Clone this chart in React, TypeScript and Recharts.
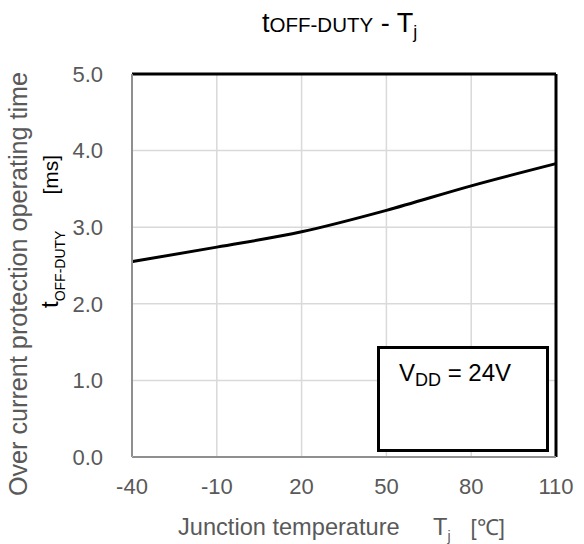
import { LineChart, Line, XAxis, YAxis, CartesianGrid, ReferenceLine } from 'recharts';

// junction temperature [°C] and t_OFF-DUTY [ms]
const temps = [-40, -10, 20, 50, 80, 110];
const offDuty = [2.55, 2.74, 2.94, 3.22, 3.54, 3.83];

const xTicks = [-40, -10, 20, 50, 80, 110];
const yTicks = [0, 1, 2, 3, 4, 5];

const data = temps.map((t, i) => ({ t, v: offDuty[i] }));

const FONT = '"Liberation Sans", Arial, sans-serif';
const GRAY = '#595959';

export default function App() {
  return (
    <div style={{ position: 'absolute', left: 0, top: 0, width: 584, height: 544, background: '#fff', fontFamily: FONT }}>
      <LineChart width={584} height={544} data={data} margin={{ top: 74, right: 28, bottom: 47, left: 72 }}>
        <CartesianGrid stroke="#d9d9d9" strokeWidth={1.5} />
        <XAxis
          dataKey="t"
          type="number"
          domain={[-40, 110]}
          ticks={xTicks}
          height={40}
          tickSize={0}
          tickMargin={21}
          axisLine={{ stroke: '#bfbfbf', strokeWidth: 1.5 }}
          tick={{ fontSize: 22, fill: GRAY, fontFamily: FONT }}
        />
        <YAxis
          type="number"
          domain={[0, 5]}
          ticks={yTicks}
          width={60}
          tickSize={0}
          tickMargin={29}
          axisLine={{ stroke: '#bfbfbf', strokeWidth: 1.5 }}
          tickFormatter={(v: number) => v.toFixed(1)}
          tick={{ fontSize: 22, fill: GRAY, fontFamily: FONT }}
        />
        <ReferenceLine y={5} stroke="#000" strokeWidth={3} />
        <ReferenceLine x={110} stroke="#000" strokeWidth={3} />
        <ReferenceLine x={-40} stroke="#000" strokeWidth={2} />
        <ReferenceLine y={0} stroke="#000" strokeWidth={2} />
        <Line type="monotone" dataKey="v" stroke="#000" strokeWidth={3} dot={false} isAnimationActive={false} />
      </LineChart>

      <svg width={584} height={544} style={{ position: 'absolute', left: 0, top: 0, pointerEvents: 'none' }} fontFamily={FONT}>
        <text x={262} y={32} fill="#000">
          <tspan fontSize={27}>t</tspan>
          <tspan fontSize={20.5}>OFF-DUTY</tspan>
          <tspan fontSize={27}> - T</tspan>
          <tspan fontSize={18} dy={6}>j</tspan>
        </text>

        <text transform="translate(27,284) rotate(-90)" textAnchor="middle" fontSize={25.2} fill={GRAY}>
          Over current protection operating time
        </text>
        <text transform="translate(58,308) rotate(-90)" fill="#000">
          <tspan fontSize={24}>t</tspan>
          <tspan fontSize={14} dy={7}>OFF-DUTY</tspan>
          <tspan fontSize={21} dy={-7} dx={36}>[ms]</tspan>
        </text>

        <text x={178} y={535} fontSize={23.6} fill={GRAY}>Junction temperature</text>
        <text x={433} y={535} fill={GRAY}>
          <tspan fontSize={23.6}>T</tspan>
          <tspan fontSize={14} dy={6}>j</tspan>
          <tspan fontSize={22} dy={-6} dx={20}>[℃]</tspan>
        </text>
      </svg>

      <div
        style={{
          position: 'absolute',
          left: 377,
          top: 346,
          width: 166,
          height: 100,
          border: '3px solid #000',
          background: '#fff',
          color: '#000',
          fontSize: 24,
        }}
      >
        <div style={{ position: 'absolute', left: 19, top: 10, whiteSpace: 'nowrap' }}>
          V<sub style={{ fontSize: 18, verticalAlign: '-5px' }}>DD</sub> = 24V
        </div>
      </div>
    </div>
  );
}
